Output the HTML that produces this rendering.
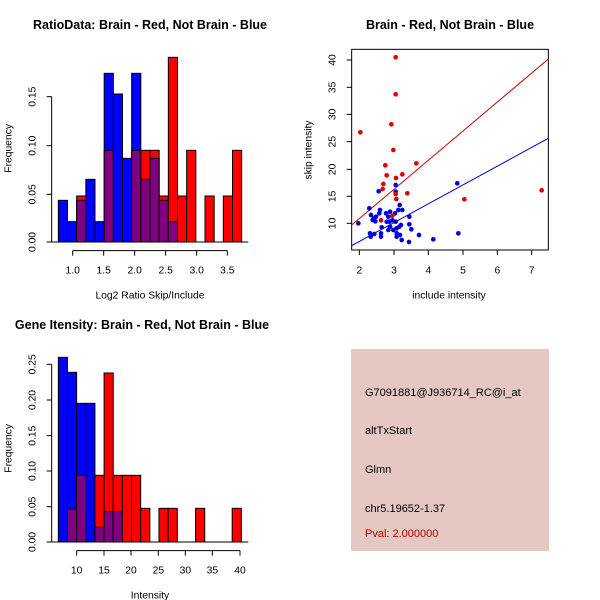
<!DOCTYPE html>
<html><head><meta charset="utf-8"><style>
html,body{margin:0;padding:0;background:#fff;width:600px;height:600px;overflow:hidden}
text{font-family:"Liberation Sans","DejaVu Sans",sans-serif}
</style></head><body>
<svg width="600" height="600" viewBox="0 0 600 600" xmlns="http://www.w3.org/2000/svg">
<rect width="600" height="600" fill="#fff"/>
<text x="150" y="29" font-size="12.5" font-weight="bold" text-anchor="middle">RatioData: Brain - Red, Not Brain - Blue</text>
<text x="450" y="29" font-size="12.5" font-weight="bold" text-anchor="middle">Brain - Red, Not Brain - Blue</text>
<text x="142" y="329" font-size="12.5" font-weight="bold" text-anchor="middle">Gene Itensity: Brain - Red, Not Brain - Blue</text>

<!-- Panel 1 -->
<g transform="translate(0,40) scale(0.3333333)" stroke="#000" stroke-width="3">
<rect x="175" y="481" width="27.5" height="125" fill="#0000ff"/>
<rect x="202.5" y="545" width="27.5" height="61" fill="#0000ff"/>
<rect x="230" y="468" width="27.5" height="138" fill="#ff0000"/><rect x="230" y="481" width="27.5" height="125" fill="#800080"/>
<rect x="257.5" y="418" width="27.5" height="188" fill="#0000ff"/>
<rect x="285" y="545" width="27.5" height="61" fill="#0000ff"/>
<rect x="312.5" y="100" width="27.5" height="506" fill="#0000ff"/><rect x="312.5" y="331" width="27.5" height="275" fill="#800080"/>
<rect x="340" y="162" width="27.5" height="444" fill="#0000ff"/>
<rect x="367.5" y="355" width="27.5" height="251" fill="#0000ff"/>
<rect x="395" y="100" width="27.5" height="506" fill="#0000ff"/><rect x="395" y="331" width="27.5" height="275" fill="#800080"/>
<rect x="422.5" y="331" width="27.5" height="275" fill="#ff0000"/><rect x="422.5" y="418" width="27.5" height="188" fill="#800080"/>
<rect x="450" y="331" width="27.5" height="275" fill="#ff0000"/><rect x="450" y="355" width="27.5" height="251" fill="#800080"/>
<rect x="477.5" y="468" width="27.5" height="138" fill="#ff0000"/><rect x="477.5" y="481" width="27.5" height="125" fill="#800080"/>
<rect x="505" y="52" width="27.5" height="554" fill="#ff0000"/><rect x="505" y="545" width="27.5" height="61" fill="#800080"/>
<rect x="532.5" y="468" width="27.5" height="138" fill="#ff0000"/>
<rect x="560" y="331" width="27.5" height="275" fill="#ff0000"/>
<rect x="615" y="468" width="27.5" height="138" fill="#ff0000"/>
<rect x="670" y="468" width="27.5" height="138" fill="#ff0000"/>
<rect x="697.5" y="331" width="27.5" height="275" fill="#ff0000"/>
<line x1="155" y1="606" x2="745" y2="606"/>
<line x1="155" y1="606" x2="155" y2="170"/>
<line x1="155" y1="606" x2="140" y2="606"/><line x1="155" y1="463" x2="140" y2="463"/><line x1="155" y1="317" x2="140" y2="317"/><line x1="155" y1="170" x2="140" y2="170"/>
<line x1="218" y1="632" x2="682" y2="632"/>
<line x1="218" y1="632" x2="218" y2="647"/><line x1="311" y1="632" x2="311" y2="647"/><line x1="404" y1="632" x2="404" y2="647"/><line x1="497" y1="632" x2="497" y2="647"/><line x1="590" y1="632" x2="590" y2="647"/><line x1="682" y1="632" x2="682" y2="647"/>
<g stroke="none" font-size="31" text-anchor="middle">
<text x="218" y="700">1.0</text><text x="311" y="700">1.5</text><text x="404" y="700">2.0</text><text x="497" y="700">2.5</text><text x="590" y="700">3.0</text><text x="682" y="700">3.5</text>
<text transform="translate(106,606) rotate(-90)">0.00</text><text transform="translate(106,463) rotate(-90)">0.05</text><text transform="translate(106,317) rotate(-90)">0.10</text><text transform="translate(106,170) rotate(-90)">0.15</text>
<text x="450" y="775">Log2 Ratio Skip/Include</text>
<text transform="translate(34,325) rotate(-90)">Frequency</text>
</g>
</g>

<!-- Panel 2 -->
<g transform="translate(300,40) scale(0.3333333)">
<rect x="155" y="28" width="590" height="602" fill="none" stroke="#000" stroke-width="3"/>
<line x1="155" y1="555" x2="745" y2="57" stroke="#cc0000" stroke-width="3"/>
<line x1="155" y1="617" x2="745" y2="295" stroke="#0000cc" stroke-width="3"/>
<g fill="#0000dd">
<circle cx="175" cy="550" r="7"/><circle cx="208" cy="505" r="7"/><circle cx="236" cy="454" r="7"/><circle cx="287" cy="435" r="7"/><circle cx="287" cy="455" r="7"/><circle cx="472" cy="430" r="7"/><circle cx="213" cy="525" r="7"/><circle cx="222" cy="535" r="7"/><circle cx="228" cy="530" r="7"/><circle cx="240" cy="510" r="7"/><circle cx="238" cy="520" r="7"/><circle cx="258" cy="520" r="7"/><circle cx="265" cy="530" r="7"/><circle cx="270" cy="515" r="7"/><circle cx="285" cy="520" r="7"/><circle cx="295" cy="510" r="7"/><circle cx="299" cy="495" r="7"/><circle cx="307" cy="510" r="7"/><circle cx="287" cy="545" r="7"/><circle cx="270" cy="560" r="7"/><circle cx="265" cy="570" r="7"/><circle cx="280" cy="570" r="7"/><circle cx="290" cy="565" r="7"/><circle cx="298" cy="560" r="7"/><circle cx="303" cy="555" r="7"/><circle cx="245" cy="562" r="7"/><circle cx="243" cy="590" r="7"/><circle cx="223" cy="582" r="7"/><circle cx="212" cy="590" r="7"/><circle cx="210" cy="580" r="7"/><circle cx="243" cy="580" r="7"/><circle cx="290" cy="590" r="7"/><circle cx="300" cy="585" r="7"/><circle cx="305" cy="600" r="7"/><circle cx="328" cy="530" r="7"/><circle cx="328" cy="553" r="7"/><circle cx="334" cy="568" r="7"/><circle cx="357" cy="585" r="7"/><circle cx="327" cy="606" r="7"/><circle cx="400" cy="598" r="7"/><circle cx="475" cy="580" r="7"/><circle cx="218" cy="540" r="7"/><circle cx="226" cy="544" r="7"/><circle cx="277" cy="541" r="7"/><circle cx="260" cy="545" r="7"/><circle cx="268" cy="545" r="7"/><circle cx="290" cy="580" r="7"/>
</g>
<g fill="#dd0000">
<circle cx="181" cy="277" r="7"/><circle cx="287" cy="52" r="7"/><circle cx="287" cy="163" r="7"/><circle cx="274" cy="253" r="7"/><circle cx="280" cy="330" r="7"/><circle cx="349" cy="370" r="7"/><circle cx="256" cy="376" r="7"/><circle cx="260" cy="406" r="7"/><circle cx="288" cy="414" r="7"/><circle cx="307" cy="403" r="7"/><circle cx="250" cy="432" r="7"/><circle cx="248" cy="447" r="7"/><circle cx="322" cy="460" r="7"/><circle cx="287" cy="462" r="7"/><circle cx="289" cy="477" r="7"/><circle cx="493" cy="478" r="7"/><circle cx="725" cy="451" r="7"/><circle cx="243" cy="541" r="7"/><circle cx="277" cy="527" r="7"/>
</g>
<g stroke="#000" stroke-width="3">
<line x1="178" y1="630" x2="178" y2="645"/><line x1="282" y1="630" x2="282" y2="645"/><line x1="385" y1="630" x2="385" y2="645"/><line x1="489" y1="630" x2="489" y2="645"/><line x1="592" y1="630" x2="592" y2="645"/><line x1="695" y1="630" x2="695" y2="645"/>
<line x1="155" y1="550" x2="140" y2="550"/><line x1="155" y1="469" x2="140" y2="469"/><line x1="155" y1="388" x2="140" y2="388"/><line x1="155" y1="305" x2="140" y2="305"/><line x1="155" y1="223" x2="140" y2="223"/><line x1="155" y1="142" x2="140" y2="142"/><line x1="155" y1="60" x2="140" y2="60"/>
</g>
<g font-size="31" text-anchor="middle">
<text x="178" y="700">2</text><text x="282" y="700">3</text><text x="385" y="700">4</text><text x="489" y="700">5</text><text x="592" y="700">6</text><text x="695" y="700">7</text>
<text transform="translate(106,550) rotate(-90)">10</text><text transform="translate(106,469) rotate(-90)">15</text><text transform="translate(106,388) rotate(-90)">20</text><text transform="translate(106,305) rotate(-90)">25</text><text transform="translate(106,223) rotate(-90)">30</text><text transform="translate(106,142) rotate(-90)">35</text><text transform="translate(106,60) rotate(-90)">40</text>
<text x="447" y="775">include intensity</text>
<text transform="translate(34,330) rotate(-90)">skip intensity</text>
</g>
</g>

<!-- Panel 3 -->
<g transform="translate(0,340) scale(0.3333333)" stroke="#000" stroke-width="3">
<rect x="175" y="52" width="27.45" height="554" fill="#0000ff"/>
<rect x="202.45" y="97" width="27.45" height="509" fill="#0000ff"/><rect x="202.45" y="507" width="27.45" height="99" fill="#800080"/>
<rect x="229.9" y="190" width="27.45" height="416" fill="#0000ff"/><rect x="229.9" y="406" width="27.45" height="200" fill="#800080"/>
<rect x="257.35" y="190" width="27.45" height="416" fill="#0000ff"/>
<rect x="284.8" y="406" width="27.45" height="200" fill="#ff0000"/><rect x="284.8" y="562" width="27.45" height="44" fill="#800080"/>
<rect x="312.25" y="99" width="27.45" height="507" fill="#ff0000"/><rect x="312.25" y="515" width="27.45" height="91" fill="#800080"/>
<rect x="339.7" y="406" width="27.45" height="200" fill="#ff0000"/><rect x="339.7" y="515" width="27.45" height="91" fill="#800080"/>
<rect x="367.15" y="406" width="27.45" height="200" fill="#ff0000"/>
<rect x="394.6" y="406" width="27.45" height="200" fill="#ff0000"/>
<rect x="422.05" y="505" width="27.45" height="101" fill="#ff0000"/>
<rect x="476.95" y="505" width="27.45" height="101" fill="#ff0000"/>
<rect x="504.4" y="505" width="27.45" height="101" fill="#ff0000"/>
<rect x="586.75" y="505" width="27.45" height="101" fill="#ff0000"/>
<rect x="696.55" y="505" width="27.45" height="101" fill="#ff0000"/>
<line x1="155" y1="606" x2="745" y2="606"/>
<line x1="155" y1="606" x2="155" y2="73"/>
<line x1="155" y1="606" x2="140" y2="606"/><line x1="155" y1="500" x2="140" y2="500"/><line x1="155" y1="393" x2="140" y2="393"/><line x1="155" y1="287" x2="140" y2="287"/><line x1="155" y1="180" x2="140" y2="180"/><line x1="155" y1="73" x2="140" y2="73"/>
<line x1="230" y1="632" x2="720" y2="632"/>
<line x1="230" y1="632" x2="230" y2="647"/><line x1="312" y1="632" x2="312" y2="647"/><line x1="393" y1="632" x2="393" y2="647"/><line x1="475" y1="632" x2="475" y2="647"/><line x1="556" y1="632" x2="556" y2="647"/><line x1="637" y1="632" x2="637" y2="647"/><line x1="720" y1="632" x2="720" y2="647"/>
<g stroke="none" font-size="31" text-anchor="middle">
<text x="230" y="700">10</text><text x="312" y="700">15</text><text x="393" y="700">20</text><text x="475" y="700">25</text><text x="556" y="700">30</text><text x="637" y="700">35</text><text x="720" y="700">40</text>
<text transform="translate(106,606) rotate(-90)">0.00</text><text transform="translate(106,500) rotate(-90)">0.05</text><text transform="translate(106,393) rotate(-90)">0.10</text><text transform="translate(106,287) rotate(-90)">0.15</text><text transform="translate(106,180) rotate(-90)">0.20</text><text transform="translate(106,73) rotate(-90)">0.25</text>
<text x="450" y="775">Intensity</text>
<text transform="translate(34,325) rotate(-90)">Frequency</text>
</g>
</g>

<!-- Panel 4 -->
<rect x="351" y="349" width="198" height="202" fill="#e6c8c2"/>
<g font-size="11">
<text x="365" y="396">G7091881@J936714_RC@i_at</text>
<text x="365" y="434">altTxStart</text>
<text x="365" y="473">Glmn</text>
<text x="365" y="512">chr5.19652-1.37</text>
<text x="365" y="537" fill="#b00000">Pval: 2.000000</text>
</g>
</svg>
</body></html>
